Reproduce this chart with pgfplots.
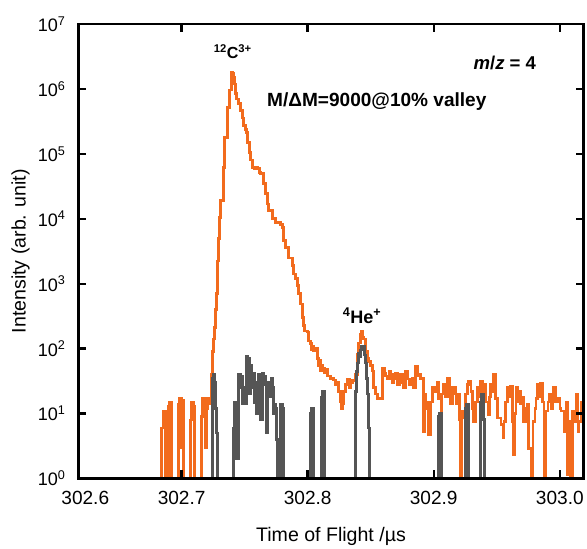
\documentclass[border=0pt]{standalone}
\usepackage{fontspec}
\setmainfont{Liberation Sans}
\usepackage{pgfplots}
\pgfplotsset{compat=1.18}
\definecolor{toforange}{RGB}{242,107,29}
\definecolor{tofgrey}{RGB}{85,85,85}

% m/z = 4 spectrum, orange = sample, grey = background
\pgfplotstableread{
x y
302.6700 0.3
302.6841 6
302.6853 11
302.6873 0.3
302.6897 13
302.6905 15
302.6921 0.3
302.6976 14
302.6984 17
302.7000 3
302.7008 16
302.7016 0.3
302.7071 8
302.7079 15
302.7095 13
302.7103 0.3
302.7159 9
302.7167 17
302.7183 15
302.7190 3
302.7198 12
302.7206 17
302.7222 14
302.7230 16
302.7238 40
302.7246 90
302.7254 140
302.7262 210
302.7270 400
302.7278 700
302.7286 2250
302.7294 5000
302.7302 10500
302.7310 19000
302.7333 62000
302.7341 180000
302.7365 520000
302.7381 960000
302.7397 1800000
302.7405 1750000
302.7413 1500000
302.7421 1200000
302.7429 860000
302.7437 700000
302.7452 600000
302.7468 470000
302.7484 355000
302.7492 275000
302.7508 240000
302.7516 215000
302.7524 150000
302.7540 105000
302.7548 80000
302.7563 62000
302.7579 60000
302.7595 62000
302.7603 60000
302.7619 52000
302.7627 50000
302.7643 50000
302.7651 35000
302.7667 24500
302.7683 17000
302.7690 13400
302.7722 10000
302.7746 8700
302.7786 8200
302.7802 7300
302.7810 4600
302.7825 3600
302.7849 2500
302.7881 1900
302.7889 1420
302.7905 1200
302.7921 930
302.7929 700
302.7944 490
302.7960 300
302.7968 225
302.7976 187
302.8000 180
302.8008 131
302.8024 120
302.8032 95
302.8040 110
302.8048 92
302.8063 100
302.8079 71
302.8087 55
302.8095 65
302.8103 45
302.8111 55
302.8119 50
302.8135 42
302.8143 48
302.8159 38
302.8183 35
302.8206 33
302.8222 28
302.8238 30
302.8246 22
302.8262 15
302.8270 12
302.8278 14
302.8286 22
302.8302 28
302.8317 34
302.8333 25
302.8341 30
302.8357 32
302.8381 40
302.8397 83
302.8405 122
302.8421 168
302.8429 185
302.8437 150
302.8444 140
302.8460 92
302.8476 71
302.8484 64
302.8500 55
302.8516 45
302.8524 25
302.8540 20
302.8556 17
302.8579 17
302.8595 50
302.8611 42
302.8619 38
302.8635 35
302.8651 45
302.8659 40
302.8675 30
302.8683 35
302.8698 42
302.8714 28
302.8730 35
302.8738 40
302.8754 30
302.8762 25
302.8778 45
302.8794 34
302.8809 28
302.8817 30
302.8833 35
302.8841 25
302.8857 54
302.8873 38
302.8881 40
302.8897 35
302.8921 5.3
302.8929 20
302.8937 15
302.8952 12
302.8960 4.8
302.8976 15
302.8992 25
302.9016 22
302.9032 30
302.9040 17
302.9056 9.7
302.9063 20
302.9079 28
302.9095 18
302.9111 35
302.9127 25
302.9135 14
302.9151 20
302.9159 25
302.9175 14
302.9190 20
302.9206 8
302.9214 0.3
302.9222 11
302.9238 8.5
302.9254 20
302.9270 28
302.9278 31
302.9294 22
302.9309 12
302.9317 7.6
302.9333 15
302.9349 25
302.9365 18
302.9373 31
302.9389 20
302.9397 28
302.9413 15
302.9429 9.7
302.9444 18
302.9452 28
302.9468 22
302.9476 40
302.9492 17
302.9508 8.5
302.9532 6.8
302.9548 4.2
302.9556 7.6
302.9571 15
302.9587 25
302.9603 18
302.9611 26
302.9627 7.6
302.9635 2.3
302.9643 10
302.9651 25
302.9667 15
302.9675 22
302.9690 14
302.9706 18
302.9714 7.6
302.9730 12
302.9746 14
302.9754 2.9
302.9770 0.3
302.9786 7.6
302.9802 12
302.9810 17
302.9825 28
302.9841 18
302.9849 29
302.9865 15
302.9873 0.3
302.9889 11
302.9905 15
302.9913 20
302.9929 12
302.9944 18
302.9952 25
302.9968 15
302.9984 17
303.0000 12
303.0008 11
303.0032 5.3
303.0048 15
303.0063 1.15
303.0071 7.6
303.0087 0.3
303.0103 11
303.0111 7.6
303.0127 20
303.0143 5.3
303.0151 7.6
303.0167 15
303.0183 15
303.0200 15
}\sampledata

\pgfplotstableread{
x y
302.6700 0.3
302.7238 0.3
302.7246 35
302.7254 40
302.7262 30
302.7270 12
302.7278 5
302.7286 0.3
302.7413 6
302.7421 15
302.7437 2
302.7452 40
302.7468 25
302.7476 38
302.7484 14
302.7492 25
302.7508 14
302.7516 77
302.7524 30
302.7532 70
302.7540 20
302.7548 55
302.7556 25
302.7571 42
302.7579 15
302.7587 30
302.7595 10
302.7611 40
302.7619 12
302.7627 8
302.7643 42
302.7651 38
302.7667 28
302.7675 5
302.7683 20
302.7690 30
302.7706 18
302.7714 35
302.7722 25
302.7730 10
302.7738 14
302.7746 12
302.7754 4
302.7762 0.3
302.7786 14
302.7802 12
302.7810 0.3
302.8024 10
302.8032 12
302.8048 0.3
302.8111 18
302.8119 22
302.8135 0.3
302.8381 22
302.8389 45
302.8397 60
302.8405 85
302.8413 75
302.8421 95
302.8429 110
302.8437 105
302.8444 110
302.8452 80
302.8460 60
302.8468 35
302.8476 20
302.8484 6
302.8492 0.3
302.9040 9
302.9048 10
302.9063 0.3
302.9254 12
302.9262 14
302.9278 0.3
302.9373 15
302.9381 20
302.9397 8
302.9405 0.3
303.0200 0.3
}\backgrounddata

\begin{document}
\begin{tikzpicture}
\begin{axis}[
  width=504pt, height=453pt, scale only axis,
  ymode=log, ymin=1, ymax=1e7,
  xmin=302.618, xmax=303.019,
  xtick={302.7,302.8,302.9,303.0},
  xticklabels={302.7,302.8,302.9,303.0},
  extra x ticks={302.6236},
  extra x tick labels={302.6},
  extra x tick style={major tick length=0pt},
  ytick={1,10,100,1000,10000,100000,1000000,10000000},
  yticklabels={10\textsuperscript{0},10\textsuperscript{1},10\textsuperscript{2},10\textsuperscript{3},10\textsuperscript{4},10\textsuperscript{5},10\textsuperscript{6},10\textsuperscript{7}},
  yminorticks=false,
  tick align=inside,
  major tick length=8pt,
  every tick/.style={line width=2.4pt, black},
  line width=2.8pt,
  axis on top,
  xticklabel style={font=\fontsize{19}{22}\selectfont, yshift=-8pt},
  yticklabel style={font=\fontsize{18}{21}\selectfont, xshift=-8pt},
  xlabel={Time of Flight /µs},
  ylabel={Intensity (arb. unit)},
  label style={font=\fontsize{19.5}{23}\selectfont},
  xlabel style={yshift=-14pt},
]
\addplot[const plot, color=toforange, line width=2.6pt] table {\sampledata};
\addplot[const plot, color=tofgrey, line width=2.8pt] table {\backgrounddata};

\node[font=\bfseries\fontsize{16}{20}\selectfont] at (rel axis cs:0.3056,0.940) {\textsuperscript{12}C\textsuperscript{3+}};
\node[font=\bfseries\fontsize{19}{20}\selectfont, anchor=west, inner sep=0pt] at (rel axis cs:0.371,0.830) {M/ΔM=9000@10\% valley};
\node[font=\bfseries\fontsize{18.5}{20}\selectfont, anchor=east] at (rel axis cs:0.915,0.914) {\textit{m}/\textit{z} = 4};
\node[font=\bfseries\fontsize{18}{20}\selectfont] at (rel axis cs:0.5615,0.358) {\textsuperscript{4}He\textsuperscript{+}};
\end{axis}
\path (current axis.south west) ++(-78pt,0pt);
\path (current axis.north west) ++(0pt,24pt);
\end{tikzpicture}
\end{document}
